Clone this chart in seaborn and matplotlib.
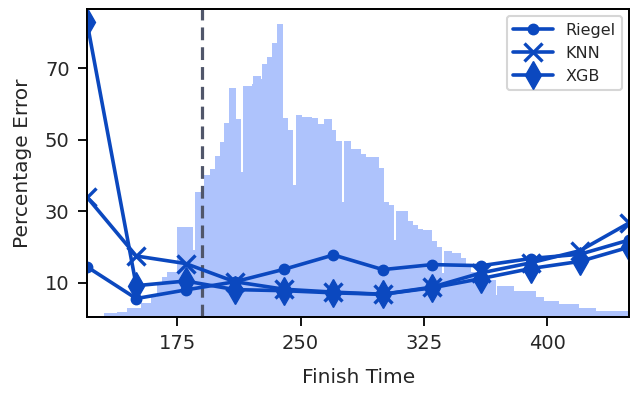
import numpy as np
import pandas as pd
import matplotlib
matplotlib.use("Agg")
import matplotlib.pyplot as plt
import seaborn as sns

# Datos
finish_time = [120, 150, 180, 210, 240, 270, 300, 330, 360, 390, 420, 450]
riegel = [14.5, 5.6, 8.0, 10.3, 13.8, 17.8, 13.7, 15.1, 14.8, 16.8, 18.0, 22.0]
knn = [34.0, 17.5, 15.4, 10.3, 8.2, 7.4, 6.8, 8.8, 12.8, 15.6, 19.0, 26.8]
xgb = [83.0, 9.2, 10.5, 8.1, 7.8, 7.2, 6.8, 8.6, 11.2, 14.0, 16.0, 20.0]

# Histograma de tiempos (bordes de los bins y alturas)
hist_edges = [120.0, 130.4, 138.3, 144.4, 152.9, 159.0, 162.6, 165.7, 168.7, 174.6,
              184.7, 185.8, 191.2, 194.7, 197.9, 200.8, 203.6, 206.4, 210.5, 213.9,
              215.1, 220.2, 220.9, 225.7, 226.7, 229.7, 232.8, 235.8, 239.5, 242.5,
              245.5, 247.0, 251.0, 257.1, 260.8, 264.2, 268.9, 271.7, 275.4, 276.4,
              280.5, 286.5, 289.6, 297.7, 300.7, 303.8, 307.1, 308.3, 315.5, 318.4,
              321.4, 324.4, 330.1, 333.1, 336.3, 337.2, 342.3, 347.4, 350.4, 353.5,
              360.3, 368.7, 369.6, 379.8, 393.2, 398.0, 407.1, 419.3, 429.7, 450.0]
hist_counts = [1.0, 3.4, 5.0, 8.4, 13.4, 20.0, 34.0, 40.0, 45.0, 90.0,
               66.7, 125.0, 141.7, 147.7, 160.7, 175.0, 194.0, 228.4, 197.7, 145.0,
               231.0, 232.4, 240.7, 237.7, 252.4, 260.0, 274.0, 292.4, 198.4, 186.7,
               131.7, 201.7, 200.0, 198.4, 192.4, 197.7, 186.7, 175.7, 115.0, 176.0,
               167.7, 162.7, 160.0, 148.4, 115.0, 111.7, 76.7, 105.7, 96.2, 91.4,
               87.4, 86.7, 75.7, 69.7, 44.0, 65.7, 63.7, 58.7, 51.7, 44.7,
               36.7, 21.7, 30.7, 25.7, 19.7, 16.0, 12.7, 8.7, 5.7]
cutoff = 190

line_color = "#0b48bf"
hist_color = "#aec3fc"

hist_centers = [(a + b) / 2 for a, b in zip(hist_edges[:-1], hist_edges[1:])]

sns.set_theme(style="ticks")
plt.rcParams["font.family"] = ["DejaVu Sans"]

fig = plt.figure(figsize=(6.3, 3.94), dpi=100)
ax = fig.add_axes([0.138, 0.196, 0.861, 0.781])
ax2 = ax.twinx()

# Histograma de fondo
sns.histplot(x=hist_centers, weights=hist_counts, bins=hist_edges, ax=ax2,
             color=hist_color, alpha=1, linewidth=0, element="bars")
ax2.set_ylim(0, 307.7)
ax2.set_yticks([])
ax2.set_ylabel("")

ax.set_zorder(ax2.get_zorder() + 1)
ax.patch.set_visible(False)

ax.axvline(cutoff, color="#50566a", lw=2.3, ls=(0, (4, 2.2)), zorder=1)

common = dict(color=line_color, lw=2.6, markeredgecolor=line_color, ax=ax)
sns.lineplot(x=finish_time, y=riegel, marker="o", ms=7.5, markeredgewidth=1,
             label="Riegel", **common)
sns.lineplot(x=finish_time, y=knn, marker="x", ms=13, markeredgewidth=2.4,
             label="KNN", **common)
sns.lineplot(x=finish_time, y=xgb, marker="d", ms=14, markeredgewidth=1,
             label="XGB", **common)

ax.set_xlim(120, 450)
ax.set_ylim(0.5, 86.6)
ax.set_xticks([175, 250, 325, 400])
ax.set_yticks([10, 30, 50, 70])
ax.tick_params(axis="both", labelsize=14, length=6.5, width=1.3, color="black",
               direction="out", pad=6)
ax.set_xlabel("Finish Time", fontsize=14.5, labelpad=11)
ax.set_ylabel("Percentage Error", fontsize=14.5, labelpad=9)

for a in (ax, ax2):
    for s in a.spines.values():
        s.set_linewidth(1.3)
        s.set_color("black")

leg = ax.legend(loc="upper right", fontsize=11.5, handlelength=2.5,
                frameon=True, fancybox=True, borderaxespad=0.45)
leg.get_frame().set_edgecolor("#cccccc")
leg.get_frame().set_linewidth(1.5)

fig.savefig("out.png", dpi=100)
